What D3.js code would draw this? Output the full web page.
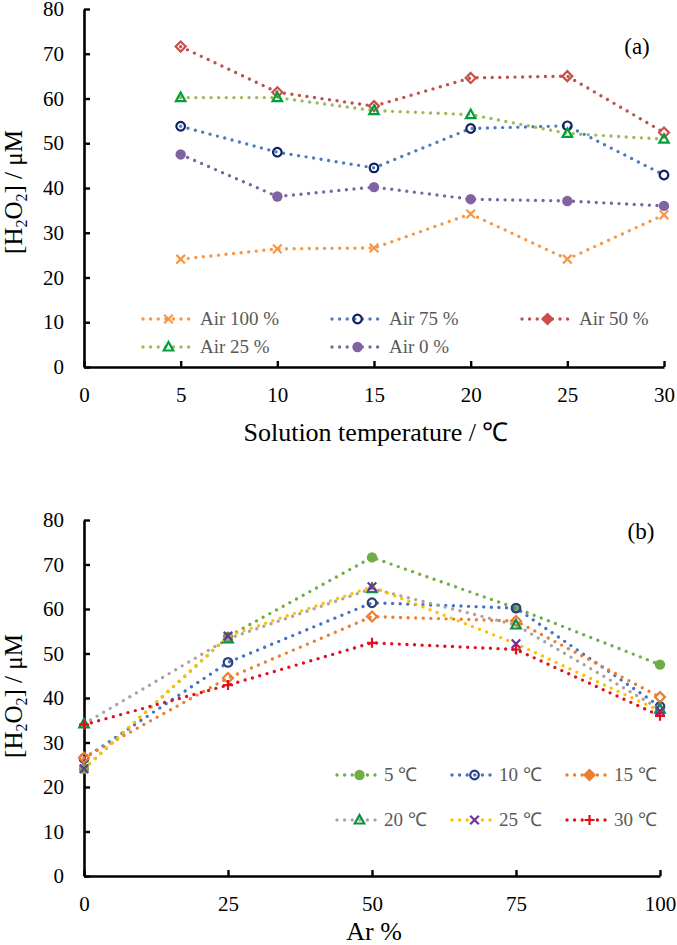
<!DOCTYPE html>
<html>
<head>
<meta charset="utf-8">
<script src="https://cdn.jsdelivr.net/npm/d3@7"></script>
<style>
  html, body { margin: 0; padding: 0; background: #fff; }
  svg { display: block; }
  text { font-family: "Liberation Serif", "Times New Roman", Times, serif; }
</style>
</head>
<body>
<svg id="chart" width="677" height="945"></svg>
<script>
// ---------- data: panel (a) ----------
const temps = [5, 10, 15, 20, 25, 30];
const air100 = [24.1, 26.4, 26.6, 34.2, 24.1, 34.0];
const air75  = [53.8, 48.0, 44.5, 53.3, 53.9, 42.9];
const air50  = [71.6, 61.4, 58.3, 64.6, 65.0, 52.4];
const air25  = [60.2, 60.2, 57.3, 56.4, 52.2, 50.9];
const air0   = [47.5, 38.1, 40.2, 37.5, 37.1, 36.0];
const seriesNamesA = ["Air 100 %", "Air 75 %", "Air 50 %", "Air 25 %", "Air 0 %"];
const xTicksA = [0, 5, 10, 15, 20, 25, 30];

// ---------- data: panel (b) ----------
const arPct = [0, 25, 50, 75, 100];
const t5  = [24.1, 53.8, 71.6, 60.2, 47.5];
const t10 = [26.4, 48.0, 61.4, 60.2, 38.1];
const t15 = [26.6, 44.5, 58.3, 57.3, 40.2];
const t20 = [34.2, 53.3, 64.6, 56.4, 37.5];
const t25 = [24.1, 53.9, 65.0, 52.2, 37.1];
const t30 = [34.0, 42.9, 52.4, 50.9, 36.0];
const seriesNamesB = ["5 \u2103", "10 \u2103", "15 \u2103", "20 \u2103", "25 \u2103", "30 \u2103"];
const xTicksB = [0, 25, 50, 75, 100];
const yTicks = [0, 10, 20, 30, 40, 50, 60, 70, 80];

// ---------- styles ----------
const stylesA = [
  {line: "#F79646", mk: "x",       mstroke: "#F79646", mfill: "none"},
  {line: "#4A7CC0", mk: "ocircle", mstroke: "#0E2160", mfill: "none"},
  {line: "#C0504D", mk: "diamond", mstroke: "#C9504A", mfill: "none", lfill: "#C9504A"},
  {line: "#9BBB59", mk: "triangle",mstroke: "#00A03C", mfill: "none"},
  {line: "#8064A2", mk: "fcircle", mstroke: "#8064A2", mfill: "#8064A2"}
];
const stylesB = [
  {line: "#70AD47", mk: "fcircle", mstroke: "#70AD47", mfill: "#70AD47"},
  {line: "#4472C4", mk: "ocircle", mstroke: "#2F3F7A", mfill: "none"},
  {line: "#ED7D31", mk: "diamond", mstroke: "#ED7D31", mfill: "none", lfill: "#ED7D31"},
  {line: "#A5A5A5", mk: "triangle",mstroke: "#0A9040", mfill: "none"},
  {line: "#FFC000", mk: "x",       mstroke: "#7030A0", mfill: "none"},
  {line: "#E3101E", mk: "plus",    mstroke: "#E3101E", mfill: "none"}
];

function markerPath(type) {
  const p = d3.path();
  if (type === "fcircle") { p.arc(0, 0, 5.2, 0, 2 * Math.PI); }
  else if (type === "ocircle") { p.arc(0, 0, 4.3, 0, 2 * Math.PI); }
  else if (type === "diamond") { const s = 5; p.moveTo(0, -s); p.lineTo(s, 0); p.lineTo(0, s); p.lineTo(-s, 0); p.closePath(); }
  else if (type === "triangle") { const s = 5; p.moveTo(0, -s); p.lineTo(s * 0.95, s * 0.7); p.lineTo(-s * 0.95, s * 0.7); p.closePath(); }
  else if (type === "x") { const s = 4.3; p.moveTo(-s, -s); p.lineTo(s, s); p.moveTo(-s, s); p.lineTo(s, -s); }
  else if (type === "plus") { const s = 5; p.moveTo(-s, 0); p.lineTo(s, 0); p.moveTo(0, -s); p.lineTo(0, s); }
  return p.toString();
}
function drawMarker(g, st, x, y, inLegend) {
  g.append("path")
    .attr("d", markerPath(st.mk))
    .attr("transform", `translate(${x},${y})`)
    .attr("fill", inLegend && st.lfill ? st.lfill : st.mfill)
    .attr("stroke", st.mstroke)
    .attr("stroke-width", st.mk === "fcircle" ? 0 : 2.2)
    .attr("stroke-linejoin", "miter");
}

const svg = d3.select("#chart");
const DOT = {w: 3.4, dash: "0 7.6"};

function panel(opts) {
  const {xDomain, xRange, yRange, xTicks, series, xs, styles, names, label, labelPos, xTitle, xTitlePos, yTitleCenter, legend} = opts;
  const x = d3.scaleLinear().domain(xDomain).range(xRange);
  const y = d3.scaleLinear().domain([0, 80]).range(yRange);
  const g = svg.append("g");

  // axes
  const ax = g.append("g").attr("transform", `translate(0,${yRange[0]})`)
    .call(d3.axisBottom(x).tickValues(xTicks).tickSizeInner(-6).tickSizeOuter(0).tickPadding(0).tickFormat(d3.format("d")));
  ax.selectAll("text").attr("y", 20).attr("dy", "0.71em");
  const ay = g.append("g").attr("transform", `translate(${xRange[0]},0)`)
    .call(d3.axisLeft(y).tickValues(yTicks).tickSizeInner(-6).tickSizeOuter(0).tickPadding(20).tickFormat(d3.format("d")));
  [ax, ay].forEach(a => {
    a.attr("font-family", null);
    a.select(".domain").attr("stroke", "#000").attr("stroke-width", 2.6);
    a.selectAll(".tick line").attr("stroke", "#000").attr("stroke-width", 2.4);
    a.selectAll(".tick text").attr("fill", "#000").style("font-size", "21px");
  });

  // series
  series.forEach((vals, i) => {
    const st = styles[i];
    const pts = vals.map((v, j) => [x(xs[j]), y(v)]);
    g.append("path").attr("d", d3.line()(pts))
      .attr("fill", "none").attr("stroke", st.line)
      .attr("stroke-width", DOT.w).attr("stroke-dasharray", DOT.dash).attr("stroke-linecap", "round");
    const mg = g.append("g");
    pts.forEach(p => drawMarker(mg, st, p[0], p[1], false));
  });

  // legend
  const lg = g.append("g");
  names.forEach((nm, i) => {
    const r = Math.floor(i / 3), c = i % 3;
    const ly = legend.rows[r];
    const x0 = legend.cols[c];
    const st = styles[i];
    lg.append("line").attr("x1", x0).attr("x2", x0 + legend.len).attr("y1", ly).attr("y2", ly)
      .attr("stroke", st.line).attr("stroke-width", DOT.w).attr("stroke-dasharray", DOT.dash).attr("stroke-linecap", "round");
    drawMarker(lg, st, x0 + legend.len / 2, ly, true);
    lg.append("text").attr("x", x0 + legend.len + legend.gap).attr("y", ly).attr("dy", "0.34em")
      .attr("fill", "#595959").style("font-size", legend.font + "px").text(nm);
  });

  // panel label
  g.append("text").attr("x", labelPos[0]).attr("y", labelPos[1]).attr("text-anchor", "middle")
    .style("font-size", "23px").attr("fill", "#000").text(label);

  // x title
  g.append("text").attr("x", xTitlePos[0]).attr("y", xTitlePos[1]).attr("text-anchor", "middle")
    .style("font-size", "26px").attr("fill", "#000").text(xTitle);

  // y title
  const yt = g.append("text").attr("transform", `translate(22,${yTitleCenter}) rotate(-90)`)
    .attr("text-anchor", "middle").style("font-size", "25px").attr("fill", "#000");
  yt.append("tspan").text("[H");
  yt.append("tspan").attr("dy", 5).style("font-size", "16px").text("2");
  yt.append("tspan").attr("dy", -5).text("O");
  yt.append("tspan").attr("dy", 5).style("font-size", "16px").text("2");
  yt.append("tspan").attr("dy", -5).text("] / \u03BCM");
}

panel({
  xDomain: [0, 30], xRange: [84, 664], yRange: [367, 9], xTicks: xTicksA,
  series: [air100, air75, air50, air25, air0], xs: temps, styles: stylesA, names: seriesNamesA,
  label: "(a)", labelPos: [637, 54], xTitle: "Solution temperature / \u2103", xTitlePos: [376, 441],
  yTitleCenter: 192,
  legend: {rows: [319, 347], cols: [143, 332, 522], len: 51, gap: 6, font: 19}
});

panel({
  xDomain: [0, 100], xRange: [84, 660], yRange: [876, 520], xTicks: xTicksB,
  series: [t5, t10, t15, t20, t25, t30], xs: arPct, styles: stylesB, names: seriesNamesB,
  label: "(b)", labelPos: [641, 539], xTitle: "Ar %", xTitlePos: [374, 940],
  yTitleCenter: 696,
  legend: {rows: [775, 820], cols: [337, 452, 567], len: 45, gap: 2, font: 19}
});
</script>
</body>
</html>
